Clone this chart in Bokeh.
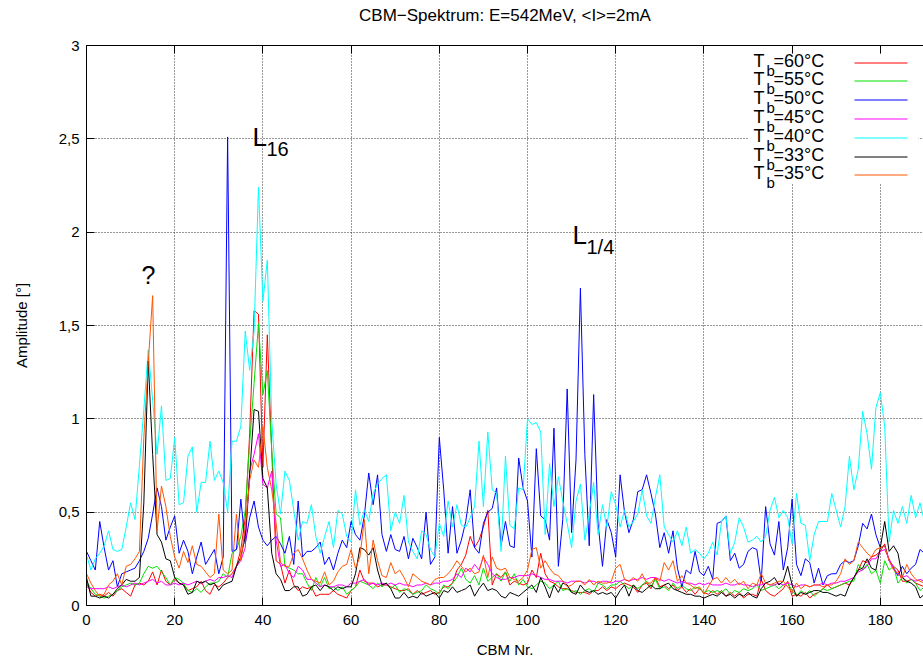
from bokeh.plotting import figure
from bokeh.models import Range1d, FixedTicker, LinearAxis, Label, BoxAnnotation, CustomJSTickFormatter
from bokeh.embed import file_html
from bokeh.resources import INLINE

cbm = list(range(192))

t60 = [0.12,0.07,0.05,0.06,0.05,0.07,0.05,0.08,0.09,0.07,0.05,0.11,0.12,0.11,0.13,0.18,0.11,0.19,0.13,0.11,
       0.14,0.12,0.11,0.08,0.09,0.10,0.13,0.08,0.06,0.11,0.10,0.12,0.15,0.17,0.21,0.30,0.47,0.92,1.58,1.56,
       0.74,1.45,0.83,0.24,0.22,0.12,0.19,0.11,0.08,0.10,0.09,0.10,0.05,0.06,0.06,0.06,0.08,0.06,0.05,0.04,
       0.08,0.10,0.19,0.13,0.12,0.12,0.10,0.11,0.11,0.10,0.09,0.08,0.08,0.09,0.06,0.08,0.06,0.07,0.08,0.06,
       0.07,0.10,0.10,0.12,0.19,0.22,0.27,0.37,0.31,0.35,0.42,0.51,0.11,0.17,0.15,0.18,0.11,0.13,0.12,0.11,
       0.12,0.19,0.15,0.28,0.17,0.13,0.12,0.10,0.09,0.09,0.08,0.07,0.07,0.07,0.06,0.08,0.08,0.10,0.08,0.10,
       0.09,0.11,0.12,0.11,0.10,0.07,0.11,0.12,0.09,0.15,0.10,0.11,0.09,0.11,0.08,0.10,0.07,0.09,0.06,0.09,
       0.07,0.06,0.08,0.06,0.08,0.05,0.07,0.05,0.07,0.04,0.06,0.06,0.05,0.14,0.08,0.06,0.05,0.07,0.09,0.13,
       0.05,0.06,0.05,0.07,0.04,0.06,0.07,0.09,0.11,0.09,0.10,0.11,0.12,0.11,0.15,0.19,0.24,0.23,0.26,0.27,
       0.29,0.33,0.24,0.21,0.19,0.13,0.13,0.14,0.12,0.11,0.10,0.11]

t55 = [0.13,0.09,0.06,0.05,0.04,0.05,0.06,0.08,0.10,0.11,0.12,0.11,0.12,0.17,0.21,0.20,0.21,0.18,0.15,0.11,
       0.15,0.14,0.12,0.08,0.07,0.09,0.07,0.10,0.12,0.12,0.13,0.17,0.15,0.28,0.30,0.37,0.51,0.87,1.19,1.51,
       1.13,1.26,0.83,0.49,0.47,0.21,0.20,0.19,0.17,0.17,0.12,0.08,0.15,0.10,0.15,0.09,0.10,0.08,0.10,0.06,
       0.08,0.10,0.13,0.12,0.11,0.09,0.12,0.10,0.12,0.09,0.11,0.07,0.09,0.08,0.06,0.07,0.08,0.11,0.09,0.08,
       0.06,0.11,0.09,0.12,0.15,0.20,0.14,0.12,0.16,0.11,0.20,0.13,0.15,0.17,0.13,0.18,0.13,0.17,0.11,0.14,
       0.10,0.09,0.11,0.13,0.12,0.09,0.11,0.13,0.08,0.09,0.07,0.08,0.06,0.08,0.09,0.07,0.12,0.11,0.09,0.11,
       0.11,0.13,0.11,0.09,0.11,0.09,0.11,0.13,0.10,0.14,0.09,0.10,0.08,0.12,0.09,0.11,0.09,0.08,0.10,0.09,
       0.07,0.08,0.07,0.08,0.07,0.09,0.06,0.08,0.07,0.09,0.08,0.09,0.11,0.08,0.09,0.10,0.11,0.09,0.11,0.12,
       0.08,0.05,0.08,0.06,0.08,0.05,0.07,0.09,0.08,0.09,0.10,0.11,0.12,0.13,0.13,0.22,0.19,0.22,0.17,0.19,
       0.12,0.24,0.19,0.21,0.12,0.15,0.12,0.14,0.12,0.08,0.10,0.09]

t50 = [0.29,0.24,0.19,0.45,0.31,0.19,0.24,0.10,0.17,0.18,0.19,0.20,0.24,0.29,0.36,0.49,0.63,0.53,0.35,0.42,
       0.48,0.28,0.35,0.29,0.17,0.26,0.34,0.22,0.26,0.30,0.17,0.26,2.51,0.29,0.30,0.57,0.33,0.47,0.56,0.42,
       0.35,0.32,0.35,0.37,0.33,0.28,0.37,0.22,0.56,0.26,0.29,0.29,0.31,0.34,0.22,0.26,0.19,0.28,0.35,0.31,
       0.45,0.38,0.35,0.48,0.71,0.54,0.70,0.38,0.29,0.38,0.30,0.29,0.37,0.25,0.36,0.31,0.25,0.50,0.22,0.26,
       0.90,0.62,0.28,0.53,0.28,0.35,0.45,0.62,0.31,0.28,0.44,0.50,0.52,0.63,0.32,0.45,0.32,0.31,0.79,0.63,
       0.56,0.26,0.84,0.48,0.46,0.35,0.95,0.21,0.46,1.16,0.39,0.78,1.70,0.81,0.32,1.13,0.44,0.21,0.46,0.39,
       0.26,0.70,0.50,0.39,0.46,0.61,0.62,0.70,0.60,0.49,0.31,0.39,0.28,0.40,0.20,0.10,0.19,0.17,0.29,0.18,
       0.16,0.21,0.14,0.44,0.45,0.48,0.24,0.28,0.20,0.22,0.29,0.31,0.30,0.13,0.53,0.33,0.27,0.45,0.19,0.31,
       0.57,0.22,0.16,0.25,0.23,0.12,0.20,0.11,0.16,0.17,0.17,0.22,0.24,0.23,0.24,0.32,0.44,0.41,0.49,0.38,
       0.31,0.32,0.24,0.20,0.16,0.21,0.17,0.20,0.22,0.30,0.28,0.30]

t45 = [0.10,0.09,0.09,0.09,0.09,0.10,0.09,0.10,0.11,0.10,0.11,0.12,0.11,0.12,0.13,0.14,0.12,0.13,0.11,0.11,
       0.12,0.11,0.12,0.11,0.12,0.13,0.12,0.13,0.14,0.13,0.15,0.15,0.16,0.15,0.21,0.24,0.31,0.72,0.81,0.92,
       0.65,0.63,0.72,0.35,0.21,0.22,0.17,0.15,0.21,0.19,0.14,0.14,0.12,0.10,0.11,0.10,0.10,0.11,0.11,0.10,
       0.12,0.12,0.13,0.14,0.11,0.12,0.11,0.12,0.11,0.12,0.11,0.12,0.11,0.11,0.10,0.11,0.11,0.12,0.11,0.12,
       0.12,0.13,0.13,0.14,0.17,0.15,0.20,0.18,0.22,0.19,0.26,0.22,0.17,0.15,0.14,0.14,0.15,0.15,0.16,0.16,
       0.16,0.17,0.16,0.15,0.14,0.14,0.13,0.13,0.13,0.12,0.13,0.13,0.13,0.12,0.13,0.13,0.12,0.13,0.13,0.12,
       0.13,0.13,0.14,0.13,0.14,0.14,0.15,0.14,0.15,0.15,0.14,0.13,0.14,0.13,0.12,0.13,0.12,0.12,0.11,0.12,
       0.11,0.12,0.11,0.11,0.11,0.12,0.11,0.11,0.12,0.11,0.11,0.10,0.11,0.11,0.12,0.11,0.11,0.12,0.11,0.12,
       0.11,0.10,0.11,0.11,0.10,0.11,0.11,0.12,0.11,0.12,0.12,0.13,0.13,0.14,0.15,0.18,0.19,0.21,0.25,0.25,
       0.29,0.30,0.25,0.20,0.17,0.15,0.16,0.14,0.13,0.14,0.13,0.13]

t40 = [0.27,0.19,0.25,0.28,0.32,0.40,0.30,0.29,0.30,0.42,0.55,0.46,0.75,1.05,1.37,1.10,0.81,1.07,0.67,0.68,
       0.90,0.54,0.55,0.80,0.85,0.50,0.66,0.66,0.88,0.67,0.72,0.66,0.50,0.88,0.88,0.96,1.47,1.26,1.47,2.24,
       1.63,1.85,0.99,0.65,0.49,0.72,0.67,0.51,0.35,0.45,0.44,0.54,0.37,0.28,0.37,0.45,0.31,0.51,0.49,0.37,
       0.34,0.62,0.43,0.51,0.45,0.60,0.65,0.68,0.70,0.40,0.50,0.44,0.59,0.34,0.29,0.25,0.40,0.38,0.30,0.26,
       0.44,0.37,0.56,0.42,0.54,0.43,0.42,0.47,0.53,0.88,0.53,0.93,0.62,0.60,0.29,0.80,0.43,0.41,0.63,0.62,
       1.00,0.97,0.98,0.93,0.38,0.76,0.53,0.69,0.56,0.44,0.31,0.56,0.65,0.35,0.49,0.66,0.38,0.54,0.42,0.61,
       0.54,0.42,0.51,0.42,0.45,0.49,0.62,0.48,0.44,0.58,0.70,0.42,0.38,0.34,0.40,0.32,0.42,0.28,0.30,0.28,
       0.25,0.28,0.34,0.27,0.45,0.48,0.28,0.34,0.47,0.42,0.34,0.35,0.37,0.34,0.37,0.51,0.58,0.47,0.51,0.47,
       0.33,0.60,0.44,0.43,0.24,0.38,0.45,0.45,0.45,0.60,0.51,0.42,0.53,0.80,0.62,0.73,1.04,0.92,0.73,1.06,
       1.14,0.96,0.34,0.51,0.44,0.53,0.44,0.59,0.47,0.55,0.45,0.50]

t33 = [0.15,0.05,0.05,0.04,0.05,0.04,0.06,0.09,0.11,0.14,0.13,0.13,0.15,0.55,1.31,0.81,0.38,0.34,0.25,0.24,
       0.15,0.12,0.11,0.06,0.07,0.13,0.12,0.13,0.11,0.12,0.08,0.11,0.12,0.13,0.21,0.26,0.37,0.70,1.05,1.04,
       0.68,0.63,0.28,0.17,0.14,0.08,0.08,0.10,0.10,0.05,0.06,0.10,0.11,0.08,0.11,0.10,0.08,0.10,0.09,0.10,
       0.10,0.17,0.31,0.30,0.27,0.31,0.19,0.11,0.12,0.09,0.04,0.04,0.07,0.04,0.05,0.04,0.07,0.05,0.06,0.07,
       0.04,0.08,0.07,0.10,0.07,0.08,0.09,0.11,0.05,0.09,0.12,0.08,0.09,0.08,0.05,0.04,0.07,0.06,0.05,0.07,
       0.09,0.11,0.07,0.15,0.10,0.04,0.11,0.07,0.12,0.11,0.07,0.06,0.11,0.08,0.07,0.08,0.06,0.07,0.06,0.07,
       0.04,0.08,0.11,0.05,0.11,0.08,0.07,0.09,0.11,0.09,0.09,0.11,0.12,0.09,0.08,0.07,0.06,0.06,0.05,0.05,
       0.04,0.05,0.06,0.05,0.07,0.05,0.06,0.04,0.06,0.05,0.07,0.05,0.04,0.09,0.12,0.13,0.15,0.11,0.13,0.21,
       0.11,0.05,0.07,0.06,0.07,0.08,0.08,0.07,0.07,0.06,0.05,0.06,0.05,0.11,0.15,0.19,0.20,0.25,0.20,0.19,
       0.31,0.45,0.29,0.32,0.28,0.15,0.13,0.12,0.10,0.04,0.06,0.08]

t35 = [0.17,0.12,0.08,0.05,0.06,0.11,0.13,0.17,0.11,0.21,0.22,0.25,0.29,0.90,1.30,1.66,0.40,0.64,0.53,0.37,
       0.26,0.20,0.29,0.23,0.32,0.22,0.21,0.18,0.15,0.17,0.49,0.19,0.17,0.19,0.49,0.24,0.42,0.67,0.78,0.74,
       0.96,0.74,0.62,0.44,0.23,0.21,0.21,0.28,0.30,0.25,0.19,0.14,0.13,0.12,0.18,0.11,0.13,0.18,0.21,0.22,
       0.30,0.20,0.26,0.46,0.17,0.35,0.24,0.16,0.15,0.23,0.17,0.19,0.15,0.10,0.17,0.15,0.13,0.12,0.11,0.14,
       0.15,0.15,0.17,0.20,0.24,0.21,0.18,0.20,0.17,0.18,0.27,0.15,0.26,0.20,0.19,0.20,0.15,0.14,0.13,0.15,
       0.19,0.30,0.31,0.20,0.24,0.20,0.17,0.16,0.13,0.10,0.11,0.13,0.13,0.11,0.14,0.11,0.13,0.12,0.12,0.13,
       0.20,0.22,0.14,0.13,0.15,0.13,0.17,0.12,0.12,0.15,0.13,0.23,0.19,0.24,0.13,0.16,0.12,0.11,0.09,0.10,
       0.06,0.10,0.14,0.15,0.12,0.15,0.12,0.14,0.11,0.13,0.09,0.12,0.11,0.17,0.12,0.11,0.12,0.13,0.13,0.10,
       0.07,0.12,0.09,0.11,0.10,0.11,0.11,0.10,0.11,0.11,0.13,0.17,0.25,0.22,0.24,0.34,0.31,0.28,0.26,0.30,
       0.31,0.32,0.24,0.19,0.17,0.15,0.22,0.17,0.14,0.13,0.12,0.12]

series_labels = ["=60°C", "=55°C", "=50°C", "=45°C", "=40°C", "=33°C", "=35°C"]
series_values = [t60, t55, t50, t45, t40, t33, t35]
series_colors = ["#ff0000", "#00e000", "#0000ff", "#ff00ff", "#00ffff", "#000000", "#ff5500"]

x_ticks = [0, 20, 40, 60, 80, 100, 120, 140, 160, 180]
y_ticks = [0, 0.5, 1, 1.5, 2, 2.5, 3]
title_text = "CBM−Spektrum: E=542MeV, <I>=2mA"

# ---- layout (pixels) ----
W, H = 923, 664
LEFT, TOP, BOT = 86, 45, 605
X_END = (W - LEFT) / 4.41
Y_END = 3.0
FONT = "Liberation Sans"
BASE_SHIFT = 0.45  # empirical baseline correction (em)


def dx(px):
    return (px - LEFT) / (W - LEFT) * X_END


def dy(py):
    return (BOT - py) / (BOT - TOP) * Y_END


p = figure(width=W, height=H, x_range=Range1d(0, X_END), y_range=Range1d(0, Y_END),
           output_backend="svg", toolbar_location=None,
           min_border_left=LEFT, min_border_right=0, min_border_top=TOP, min_border_bottom=H - BOT,
           x_axis_label="CBM Nr.", y_axis_label="Amplitude [°]")
p.outline_line_color = None
p.background_fill_color = "white"
p.border_fill_color = "white"

xt = FixedTicker(ticks=x_ticks)
yt = FixedTicker(ticks=y_ticks)
p.xaxis.ticker = xt
p.yaxis.ticker = yt
p.yaxis.formatter = CustomJSTickFormatter(code="return tick.toString().replace('.', ',');")

for ax in (p.xaxis[0], p.yaxis[0]):
    ax.major_tick_in = 8
    ax.major_tick_out = 0
    ax.minor_tick_line_color = None
    ax.axis_line_color = "black"
    ax.major_tick_line_color = "black"
    ax.major_label_text_font = FONT
    ax.major_label_text_font_size = "15px"
    ax.major_label_text_color = "black"
    ax.axis_label_text_font = FONT
    ax.axis_label_text_font_size = "15px"
    ax.axis_label_text_font_style = "normal"
    ax.axis_label_text_color = "black"
p.yaxis.major_label_standoff = 7
p.yaxis.axis_label_standoff = 26
p.xaxis.major_label_standoff = 9
p.xaxis.axis_label_standoff = 13

# top axis: mirrored inward ticks, carries the chart title as its label
top_axis = LinearAxis(ticker=xt, major_tick_in=8, major_tick_out=0, minor_tick_line_color=None,
                      formatter=CustomJSTickFormatter(code="return '';"),
                      major_label_text_font_size="2px", major_label_standoff=0,
                      axis_line_color="black",
                      axis_label=title_text, axis_label_standoff=21,
                      axis_label_text_font=FONT, axis_label_text_font_size="17px",
                      axis_label_text_font_style="normal", axis_label_text_color="black")
p.add_layout(top_axis, "above")

p.xgrid.ticker = xt
p.ygrid.ticker = yt
for g in (p.xgrid[0], p.ygrid[0]):
    g.grid_line_color = "#333333"
    g.grid_line_dash = "1 2"
    g.grid_line_width = 1

# legend background (under the curves, over the grid)
p.add_layout(BoxAnnotation(left=dx(748), right=dx(918), top=dy(53), bottom=dy(183),
                           fill_color="white", fill_alpha=1.0, line_color=None, level="underlay"))

for vals, col in zip(series_values, series_colors):
    p.line(cbm, vals, line_color=col, line_width=1)


def add_txt(px, py, txt, size):
    p.add_layout(Label(x=dx(px), y=dy(py - BASE_SHIFT * size), text=txt, text_font=FONT,
                       text_font_size=f"{size}px", text_align="left",
                       text_baseline="alphabetic", text_color="black"))


add_txt(141, 286, "?", 25)
add_txt(252, 148, "L", 26)
add_txt(266, 157, "16", 20)
add_txt(572, 246, "L", 26)
add_txt(586, 255, "1/4", 20)

for i, (lab, col) in enumerate(zip(series_labels, series_colors)):
    ry = int(62 + i * 18.8) + 0.5
    p.segment(x0=[dx(854)], y0=[dy(ry)], x1=[dx(907)], y1=[dy(ry)], line_color=col, line_width=1)
    add_txt(753, ry + 6.5, "T", 18)
    add_txt(766, ry + 14, "b", 15)
    add_txt(773, ry + 6.5, lab, 18)

open("out.html", "w").write(file_html(p, INLINE))
